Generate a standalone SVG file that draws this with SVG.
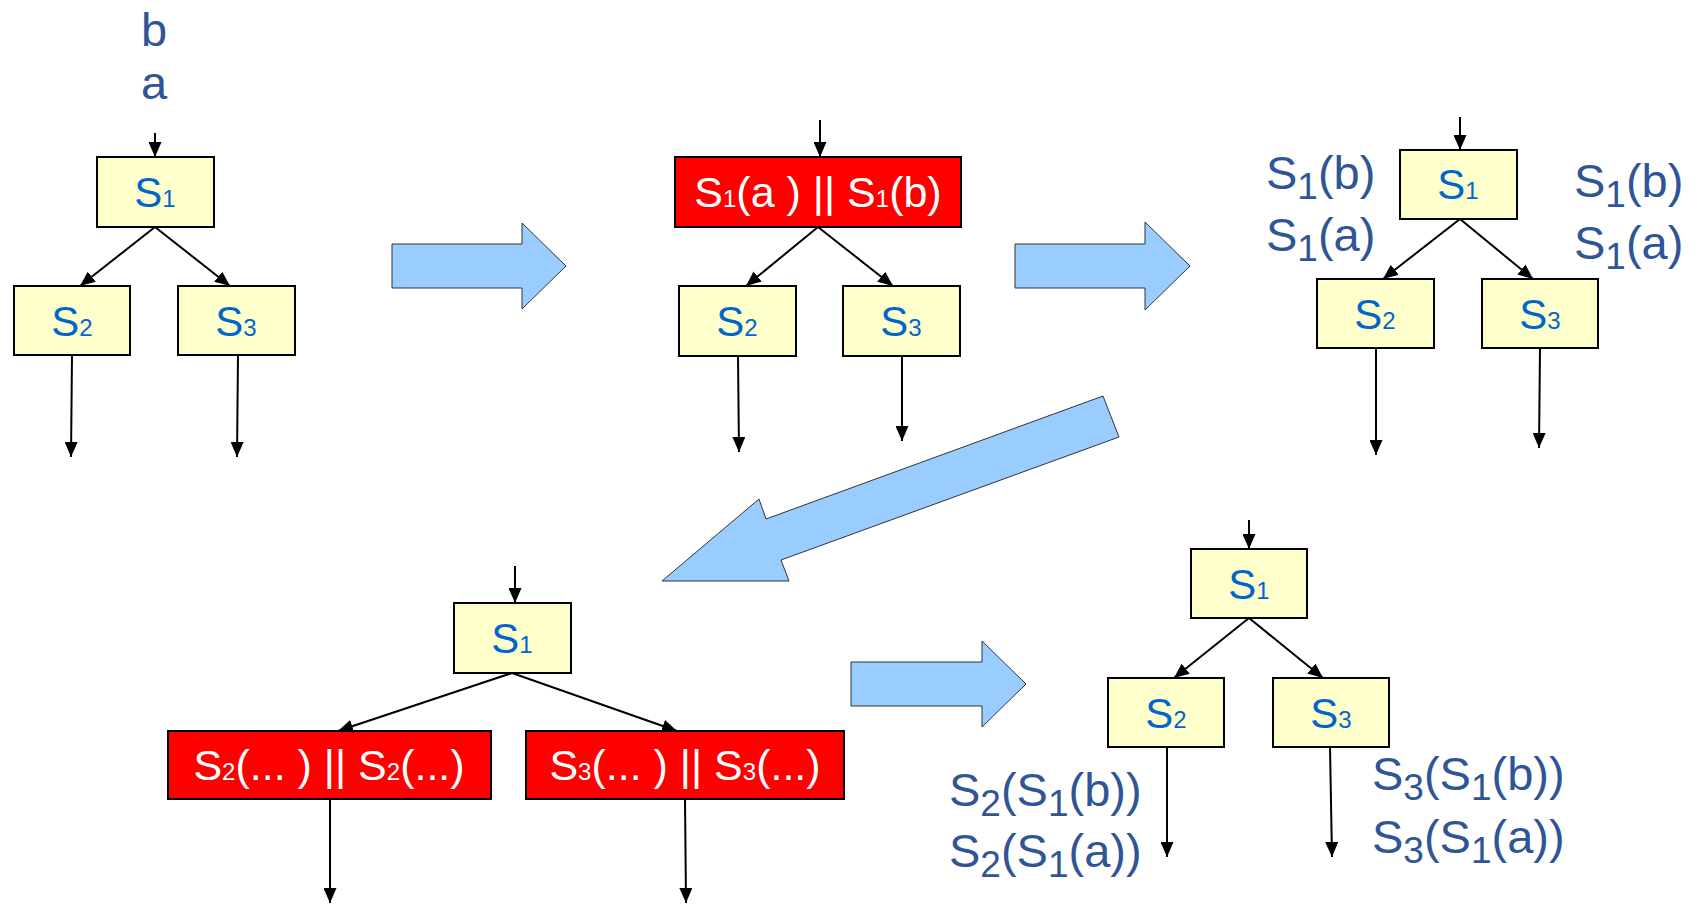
<svg xmlns="http://www.w3.org/2000/svg" width="1701" height="908" viewBox="0 0 1701 908">
  <style>
    .box { fill: #FFFFCC; stroke: #000; stroke-width: 2; }
    .red { fill: #FF0000; stroke: #000; stroke-width: 2; }
    .bt { font-family: "Liberation Sans", Arial, sans-serif; font-size: 42px; fill: #0066CC; text-anchor: middle; }
    .bt .s { font-size: 24px; }
    .rt { font-family: "Liberation Sans", Arial, sans-serif; font-size: 43px; fill: #FFFFFF; text-anchor: middle; }
    .rt .s { font-size: 24px; }
    .lbl { font-family: "Liberation Sans", Arial, sans-serif; font-size: 47px; fill: #2F5597; }
    .lbl .s { font-size: 37px; }
    .conn line { stroke: #000; stroke-width: 2; marker-end: url(#head); }
    .big { fill: #99CCFF; stroke: #333; stroke-width: 1; }
  </style>
  <defs>
    <marker id="head" viewBox="0 0 15 13" refX="15" refY="6.5" markerWidth="15" markerHeight="13" markerUnits="userSpaceOnUse" orient="auto">
      <path d="M0,0 L15,6.5 L0,13 z" fill="#000"/>
    </marker>
  </defs>

  <!-- transition arrows -->
  <g id="step-arrows">
    <polygon class="big" points="392,244 522,244 522,223 566,266 522,309 522,288 392,288"/>
    <polygon class="big" points="1015,244 1145,244 1145,222 1190,266 1145,310 1145,288 1015,288"/>
    <polygon class="big" points="1103,396 1119,437 781,560 789,581 662,581 759,499 766,519"/>
    <polygon class="big" points="851,662 982,662 982,641 1026,684 982,727 982,706 851,706"/>
  </g>

  <!-- input values -->
  <g id="inputs">
    <text class="lbl" x="154" y="46" text-anchor="middle" font-size="46">b</text>
    <text class="lbl" x="154" y="99" text-anchor="middle" font-size="50">a</text>
  </g>

  <!-- stage 1 -->
  <g id="p1-s1"><rect class="box" x="97" y="157" width="117" height="70"/><text class="bt" x="155" y="207">S<tspan class="s">1</tspan></text></g>
  <g id="p1-s2"><rect class="box" x="14" y="286" width="116" height="69"/><text class="bt" x="72" y="336">S<tspan class="s">2</tspan></text></g>
  <g id="p1-s3"><rect class="box" x="178" y="286" width="117" height="69"/><text class="bt" x="236" y="336">S<tspan class="s">3</tspan></text></g>

  <!-- stage 2 -->
  <g id="p2-s1"><rect class="red" x="675" y="157" width="286" height="70"/><text class="rt" x="818" y="207">S<tspan class="s">1</tspan>(a ) || S<tspan class="s">1</tspan>(b)</text></g>
  <g id="p2-s2"><rect class="box" x="679" y="286" width="117" height="70"/><text class="bt" x="737" y="336">S<tspan class="s">2</tspan></text></g>
  <g id="p2-s3"><rect class="box" x="843" y="286" width="117" height="70"/><text class="bt" x="901" y="336">S<tspan class="s">3</tspan></text></g>

  <!-- stage 3 -->
  <g id="p3-s1"><rect class="box" x="1400" y="150" width="117" height="69"/><text class="bt" x="1458" y="199">S<tspan class="s">1</tspan></text></g>
  <g id="p3-s2"><rect class="box" x="1317" y="279" width="117" height="69"/><text class="bt" x="1375" y="329">S<tspan class="s">2</tspan></text></g>
  <g id="p3-s3"><rect class="box" x="1482" y="279" width="116" height="69"/><text class="bt" x="1540" y="329">S<tspan class="s">3</tspan></text></g>
  <g id="p3-labels">
    <text class="lbl" x="1266" y="189">S<tspan class="s" dy="10">1</tspan><tspan dy="-10">(b)</tspan></text>
    <text class="lbl" x="1266" y="251">S<tspan class="s" dy="10">1</tspan><tspan dy="-10">(a)</tspan></text>
    <text class="lbl" x="1574" y="197">S<tspan class="s" dy="10">1</tspan><tspan dy="-10">(b)</tspan></text>
    <text class="lbl" x="1574" y="259">S<tspan class="s" dy="10">1</tspan><tspan dy="-10">(a)</tspan></text>
  </g>

  <!-- stage 4 -->
  <g id="p4-s1"><rect class="box" x="454" y="603" width="117" height="70"/><text class="bt" x="512" y="653">S<tspan class="s">1</tspan></text></g>
  <g id="p4-s2"><rect class="red" x="168" y="731" width="323" height="68"/><text class="rt" x="329" y="780">S<tspan class="s">2</tspan>(... ) || S<tspan class="s">2</tspan>(...)</text></g>
  <g id="p4-s3"><rect class="red" x="526" y="731" width="318" height="68"/><text class="rt" x="685" y="780">S<tspan class="s">3</tspan>(... ) || S<tspan class="s">3</tspan>(...)</text></g>

  <!-- stage 5 -->
  <g id="p5-s1"><rect class="box" x="1191" y="549" width="116" height="69"/><text class="bt" x="1249" y="599">S<tspan class="s">1</tspan></text></g>
  <g id="p5-s2"><rect class="box" x="1108" y="678" width="116" height="69"/><text class="bt" x="1166" y="728">S<tspan class="s">2</tspan></text></g>
  <g id="p5-s3"><rect class="box" x="1273" y="678" width="116" height="69"/><text class="bt" x="1331" y="728">S<tspan class="s">3</tspan></text></g>
  <g id="p5-labels">
    <text class="lbl" x="949" y="806">S<tspan class="s" dy="10">2</tspan><tspan dy="-10">(S</tspan><tspan class="s" dy="10">1</tspan><tspan dy="-10">(b))</tspan></text>
    <text class="lbl" x="949" y="867">S<tspan class="s" dy="10">2</tspan><tspan dy="-10">(S</tspan><tspan class="s" dy="10">1</tspan><tspan dy="-10">(a))</tspan></text>
    <text class="lbl" x="1372" y="790">S<tspan class="s" dy="10">3</tspan><tspan dy="-10">(S</tspan><tspan class="s" dy="10">1</tspan><tspan dy="-10">(b))</tspan></text>
    <text class="lbl" x="1372" y="853">S<tspan class="s" dy="10">3</tspan><tspan dy="-10">(S</tspan><tspan class="s" dy="10">1</tspan><tspan dy="-10">(a))</tspan></text>
  </g>

  <!-- connectors -->
  <g id="connectors" class="conn">
    <line x1="155" y1="133" x2="155" y2="157"/>
    <line x1="155" y1="227" x2="80" y2="286"/>
    <line x1="155" y1="227" x2="230" y2="286"/>
    <line x1="72" y1="355" x2="71" y2="457"/>
    <line x1="238" y1="355" x2="237" y2="457"/>

    <line x1="820" y1="120" x2="820" y2="157"/>
    <line x1="818" y1="227" x2="746" y2="286"/>
    <line x1="818" y1="227" x2="893" y2="286"/>
    <line x1="738" y1="356" x2="739" y2="452"/>
    <line x1="902" y1="356" x2="902" y2="441"/>

    <line x1="1460" y1="117" x2="1460" y2="150"/>
    <line x1="1460" y1="219" x2="1383" y2="279"/>
    <line x1="1460" y1="219" x2="1533" y2="279"/>
    <line x1="1376" y1="348" x2="1376" y2="455"/>
    <line x1="1540" y1="348" x2="1539" y2="448"/>

    <line x1="515" y1="566" x2="515" y2="603"/>
    <line x1="512" y1="673" x2="338" y2="731"/>
    <line x1="512" y1="673" x2="677" y2="731"/>
    <line x1="330" y1="799" x2="330" y2="903"/>
    <line x1="685" y1="799" x2="686" y2="903"/>

    <line x1="1249" y1="520" x2="1249" y2="549"/>
    <line x1="1249" y1="618" x2="1174" y2="678"/>
    <line x1="1249" y1="618" x2="1323" y2="678"/>
    <line x1="1167" y1="747" x2="1167" y2="857"/>
    <line x1="1330" y1="747" x2="1332" y2="857"/>
  </g>
</svg>
